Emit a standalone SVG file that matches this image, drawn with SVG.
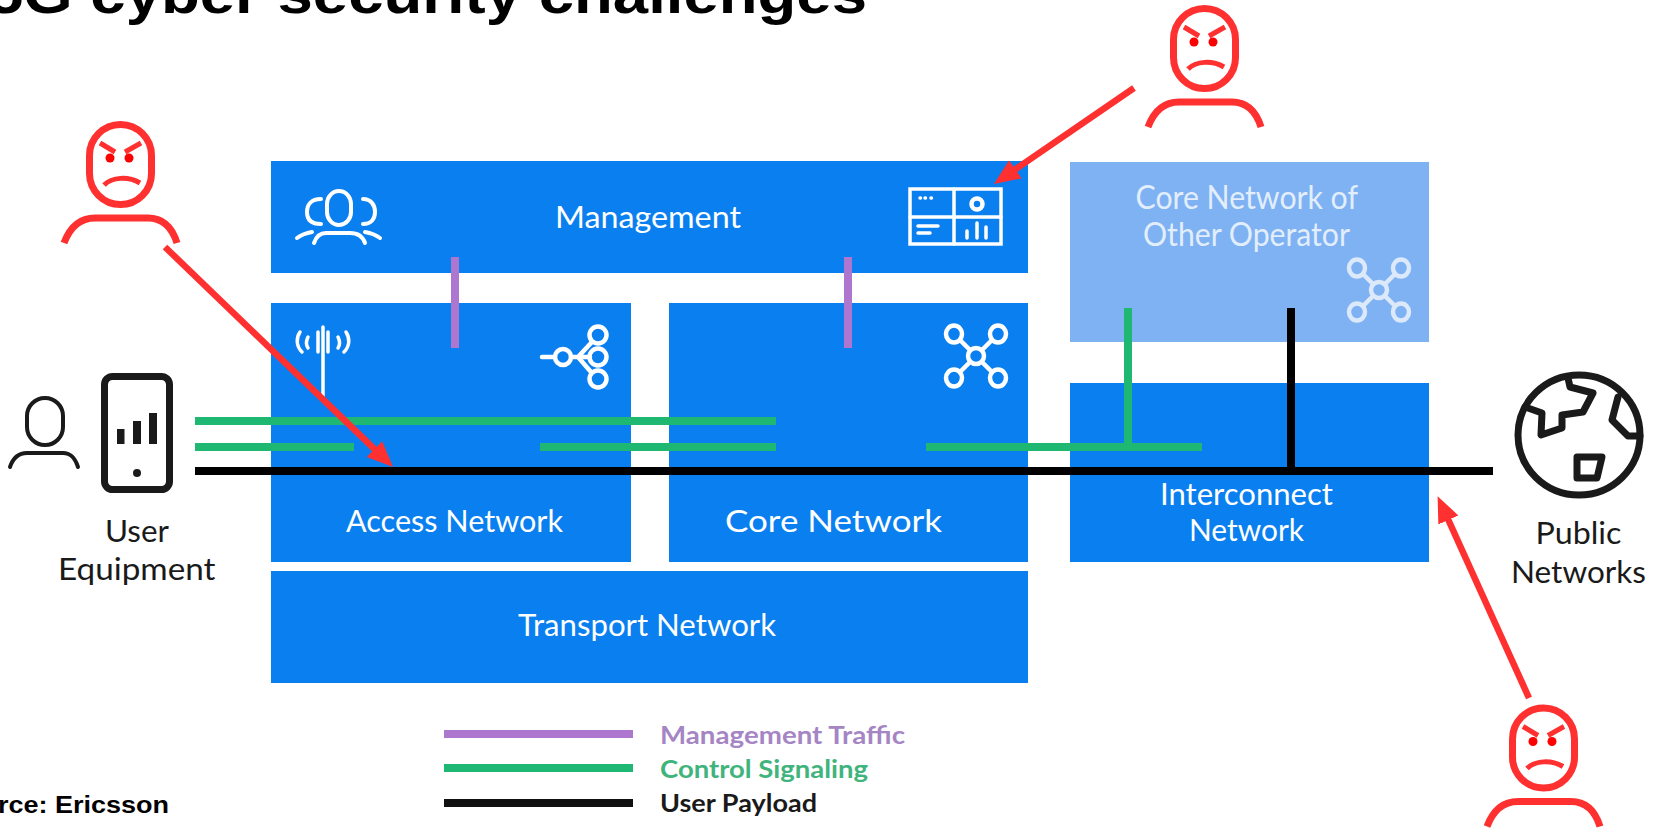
<svg xmlns="http://www.w3.org/2000/svg" xmlns:xlink="http://www.w3.org/1999/xlink" width="1659" height="828" viewBox="0 0 1659 828">
<style>
text{font-family:"Lato","Liberation Sans",sans-serif}
.box{fill:#0a7ff0}
.lbl{fill:#fff;font-size:31px}
.pale{fill:#e3eefc;font-size:32px}
.blk{fill:#1a1a1a;font-size:31px}
.leg{font-size:25px;font-weight:700}
.ttl{font-family:"Liberation Sans",Arial,sans-serif;font-weight:700;fill:#000}
.ico{fill:none;stroke:#fff;stroke-width:4.5;stroke-linecap:round;stroke-linejoin:round}
.icp{fill:none;stroke:#dbe9fb;stroke-width:4.5;stroke-linecap:round}
.icb{fill:none;stroke:#1a1a1a;stroke-linecap:round;stroke-linejoin:round}
.g{fill:#1fb872}.p{fill:#ae77cf}.k{fill:#000}
.atk{fill:none;stroke:#ff3030;stroke-width:7}
.arr{stroke:#ff3030;stroke-width:6.5;fill:none;marker-end:url(#ah)}
</style>
<defs>
<marker id="ah" markerUnits="userSpaceOnUse" markerWidth="26" markerHeight="24" viewBox="0 0 26 24" refX="12" refY="12" orient="auto"><path d="M0 1L26 12L0 23Z" fill="#ff3030"/></marker>
<g id="attacker">
<rect class="atk" x="89.5" y="124.5" width="62" height="80" rx="31" ry="31"/>
<path class="atk" d="M64 243C70 227 80 218 95 218H148C163 218 172 227 177 243"/>
<path class="atk" style="stroke-width:5" d="M100 143L115 152M141 143L125 152"/>
<circle cx="110" cy="158" r="4.5" fill="#f00"/><circle cx="129" cy="158" r="4.5" fill="#f00"/>
<path class="atk" style="stroke-width:5" d="M104 185C112 177 128 176 140 183"/>
</g>
<g id="hub">
<circle cx="0" cy="0" r="8"/>
<ellipse cx="-22" cy="-22" rx="8" ry="8.5"/><ellipse cx="22" cy="-22" rx="8" ry="8.5"/><ellipse cx="-22" cy="22" rx="8" ry="8.5"/><ellipse cx="22" cy="22" rx="8" ry="8.5"/>
<path d="M-6 -6L-16 -16M6 -6L16 -16M-6 6L-16 16M6 6L16 16"/>
</g>
</defs>
<rect width="1659" height="828" fill="#fff"/>
<text class="ttl" x="-12" y="12.5" font-size="56" textLength="879" lengthAdjust="spacingAndGlyphs">5G cyber security challenges</text>
<text class="ttl" x="-53" y="813" font-size="23" textLength="222" lengthAdjust="spacingAndGlyphs">Source: Ericsson</text>

<g id="management">
<rect class="box" x="271" y="161" width="757" height="112"/>
<text class="lbl" x="555" y="228" textLength="186" lengthAdjust="spacingAndGlyphs">Management</text>
<g class="ico" style="stroke-width:4">
<rect x="327" y="191" width="24" height="34" rx="12" ry="13"/>
<path d="M321 199C311 199 307 205 307 212C307 219 311 224 321 224M363 199C371 199 375 205 375 212C375 219 371 224 363 224"/>
<path d="M314 243C316 237 319 233 326 233H350C358 233 363 237 365 243M297 238C301 235 306 233 312 232M365 232C371 233 376 235 380 238"/>
</g>
<g class="ico" style="stroke-width:3.5">
<rect x="910" y="189" width="91" height="55" stroke-linejoin="miter"/>
<path d="M954 189V244M910 217H1001"/>
<circle cx="977" cy="204" r="5.5" style="stroke-width:4.5"/>
<path d="M918 226H938M918 233H930"/>
<path d="M967 231V238M977 223V238M986 227V238"/>
<path d="M920 198h.5M925 198h.5M931 198h.5"/>
</g>
</g>

<g id="access-network">
<rect class="box" x="271" y="303" width="360" height="259"/>
<text class="lbl" x="346" y="532" textLength="217" lengthAdjust="spacingAndGlyphs">Access Network</text>
<g class="ico" style="stroke-width:3.5">
<path d="M323 327V396M318 332V352M328 332V352"/>
<path d="M300 332C296 338 296 346 302 352M308 337C306 341 306 345 308 348M346 332C350 338 350 346 344 352M338 337C340 341 340 345 338 348"/>
</g>
<g class="ico">
<path d="M542 357H555M571 357H590M578 357L591 343M578 357L591 372"/>
<circle cx="563" cy="357" r="8"/>
<circle cx="598" cy="335" r="8.5"/><circle cx="598" cy="357" r="8.5"/><circle cx="598" cy="379" r="8.5"/>
</g>
</g>

<g id="core-network">
<rect class="box" x="669" y="303" width="359" height="259"/>
<text class="lbl" x="725" y="532" textLength="217" lengthAdjust="spacingAndGlyphs">Core Network</text>
<use xlink:href="#hub" href="#hub" class="ico" transform="translate(976 356)"/>
</g>

<g id="transport-network">
<rect class="box" x="271" y="571" width="757" height="112"/>
<text class="lbl" x="518" y="636" textLength="258" lengthAdjust="spacingAndGlyphs">Transport Network</text>
</g>

<g id="core-other-operator">
<rect x="1070" y="162" width="359" height="180" fill="#7fb2f3"/>
<text class="pale" x="1135.5" y="209" textLength="222.5" lengthAdjust="spacingAndGlyphs">Core Network of</text>
<text class="pale" x="1143" y="246" textLength="207" lengthAdjust="spacingAndGlyphs">Other Operator</text>
<use xlink:href="#hub" href="#hub" class="icp" transform="translate(1379 290)"/>
</g>

<g id="interconnect-network">
<rect class="box" x="1070" y="383" width="359" height="179"/>
<text class="lbl" x="1160" y="505" textLength="173" lengthAdjust="spacingAndGlyphs">Interconnect</text>
<text class="lbl" x="1189" y="541" textLength="115" lengthAdjust="spacingAndGlyphs">Network</text>
</g>

<g id="user-equipment">
<rect class="icb" style="stroke-width:4" x="27" y="398" width="36" height="47" rx="18" ry="18"/>
<path class="icb" style="stroke-width:4" d="M10 467C13 458 19 453 27 453H63C71 453 75 458 78 467"/>
<rect class="icb" style="stroke-width:7" x="104.5" y="376.5" width="65" height="113" rx="8"/>
<path d="M117 429h7.5v15h-7.5zM133 421h8v23h-8zM149 413h8v31h-8z" fill="#1a1a1a"/>
<circle cx="137" cy="473" r="4" fill="#1a1a1a"/>
<text class="blk" x="105" y="542" textLength="64" lengthAdjust="spacingAndGlyphs">User</text>
<text class="blk" x="58" y="580" textLength="157.5" lengthAdjust="spacingAndGlyphs">Equipment</text>
</g>

<g id="public-networks">
<ellipse class="icb" style="stroke-width:7" cx="1579" cy="435" rx="61" ry="60"/>
<path class="icb" style="stroke-width:7" d="M1568 378L1570 387L1593 393L1583 412L1562 415L1562 428L1541 435L1542 413L1525 407M1618 397L1612 420L1628 436L1640 436M1577 457H1602L1597 478H1577Z"/>
<text class="blk" x="1535.5" y="544" textLength="86" lengthAdjust="spacingAndGlyphs">Public</text>
<text class="blk" x="1511" y="583" textLength="135" lengthAdjust="spacingAndGlyphs">Networks</text>
</g>

<g id="connectors">
<rect class="p" x="451" y="257" width="8" height="91"/>
<rect class="p" x="844" y="257" width="8" height="91"/>
<rect class="g" x="195" y="417" width="581" height="8"/>
<rect class="g" x="195" y="443" width="159" height="8"/>
<rect class="g" x="540" y="443" width="236" height="8"/>
<rect class="g" x="926" y="443" width="276" height="8"/>
<rect class="g" x="1124" y="308" width="8" height="139"/>
<rect class="k" x="195" y="467" width="1298" height="8"/>
<rect class="k" x="1287" y="308" width="8" height="163"/>
</g>

<g id="legend">
<rect class="p" x="444" y="730" width="189" height="8"/>
<rect class="g" x="444" y="764" width="189" height="8"/>
<rect fill="#111" x="444" y="799" width="189" height="8"/>
<text class="leg" x="660" y="744" fill="#a585c4" textLength="245" lengthAdjust="spacingAndGlyphs">Management Traffic</text>
<text class="leg" x="660" y="778" fill="#3fb47c" textLength="208" lengthAdjust="spacingAndGlyphs">Control Signaling</text>
<text class="leg" x="660" y="812" fill="#1a1a1a" textLength="157" lengthAdjust="spacingAndGlyphs">User Payload</text>
</g>

<g id="attacker-1"><use xlink:href="#attacker" href="#attacker"/></g>
<g id="attacker-2"><use xlink:href="#attacker" href="#attacker" transform="translate(1084 -116)"/></g>
<g id="attacker-3"><use xlink:href="#attacker" href="#attacker" transform="translate(1423 583.5)"/></g>

<g id="attack-arrows">
<line class="arr" x1="165" y1="247" x2="383" y2="457.3"/>
<line class="arr" x1="1134" y1="88" x2="1005.5" y2="176.1"/>
<line class="arr" x1="1529" y1="698" x2="1443.4" y2="509"/>
</g>
</svg>
